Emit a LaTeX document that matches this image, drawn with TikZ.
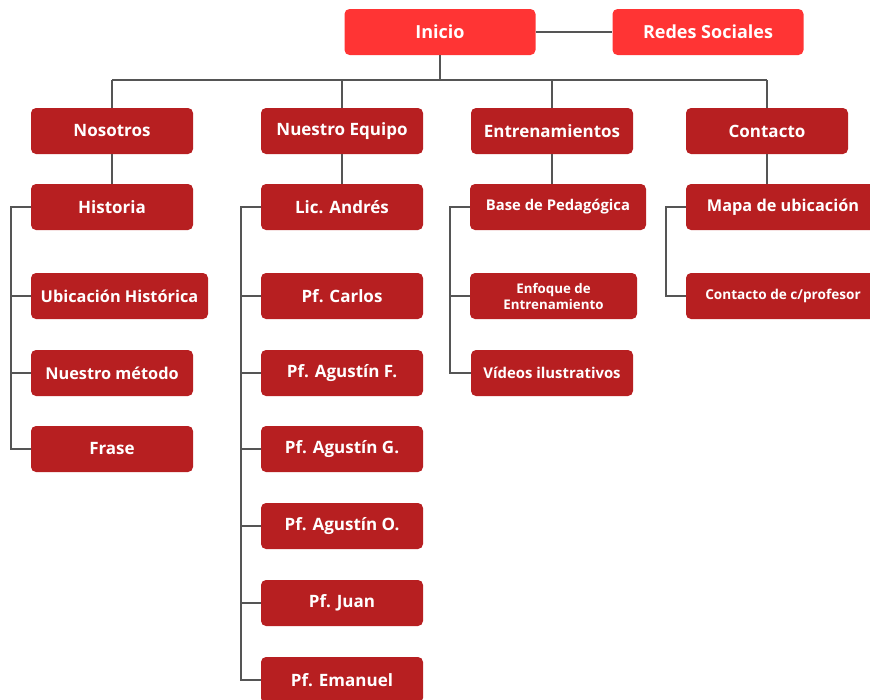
\documentclass[tikz,border=0pt]{standalone}
\usepackage{fontspec}
\setmainfont{Open Sans}
\definecolor{topred}{HTML}{FF3434}
\definecolor{darkred}{HTML}{B71F21}
\definecolor{linegray}{HTML}{555555}
\tikzset{
  box/.style={draw=none, fill=darkred, text=white, rounded corners=5pt, inner sep=0pt,
    minimum height=46pt, minimum width=162pt, font=\bfseries\fontsize{17}{20}\selectfont, align=center},
  topbox/.style={box, fill=topred, minimum width=191pt, font=\bfseries\fontsize{18}{20}\selectfont},
  conn/.style={draw=linegray, line width=1.4pt},
}
\begin{document}
\begin{tikzpicture}[x=1pt,y=-1pt]
\useasboundingbox (0,0) rectangle (870,699);
\clip (0,0) rectangle (870,699);
% top
\node[topbox] (ini) at (440,32) {Inicio};
\node[topbox] (red) at (708,32) {Redes Sociales};
% level 1
\node[box] (nos) at (112,131) {Nosotros};
\node[box] (equ) at (342,131) {Nuestro Equipo};
\node[box] (ent) at (552,131) {Entrenamientos};
\node[box] (con) at (767,131) {Contacto};
% Nosotros children
\node[box] (his) at (112,207) {Historia};
\node[box, minimum width=177pt, font=\bfseries\fontsize{16.3}{19}\selectfont] (ubi) at (119.5,296) {Ubicación Histórica};
\node[box, font=\bfseries\fontsize{16.3}{19}\selectfont] (met) at (112,373) {Nuestro método};
\node[box] (fra) at (112,449) {Frase};
% Equipo children
\node[box] (and) at (342,207) {Lic. Andrés};
\node[box] (car) at (342,296) {Pf. Carlos};
\node[box] (agf) at (342,373) {Pf. Agustín F.};
\node[box] (agg) at (342,449) {Pf. Agustín G.};
\node[box] (ago) at (342,526) {Pf. Agustín O.};
\node[box] (jua) at (342,603) {Pf. Juan};
\node[box] (ema) at (342,680) {Pf. Emanuel};
% Entrenamientos children
\node[box, minimum width=176pt, font=\bfseries\fontsize{14.8}{17}\selectfont] (bas) at (558,207) {Base de Pedagógica};
\node[box, minimum width=167pt, font=\bfseries\fontsize{13.3}{16}\selectfont] (enf) at (553.5,296) {Enfoque de\\Entrenamiento};
\node[box, font=\bfseries\fontsize{14.9}{17}\selectfont] (vid) at (552,373) {Vídeos ilustrativos};
% Contacto children
\node[box, minimum width=194pt, font=\bfseries\fontsize{16.3}{19}\selectfont] (map) at (783,207) {Mapa de ubicación};
\node[box, minimum width=194pt, font=\bfseries\fontsize{13.6}{16}\selectfont] (cpr) at (783,296) {Contacto de c/profesor};
% connectors
\begin{scope}[conn]
\draw (ini) -- (red);
\coordinate (busL) at (112,80);
\coordinate (busR) at (767,80);
\draw (ini.south) -- (ini.south |- busL);
\draw (busL) -- (busR);
\draw (nos.north) -- (busL);
\draw (equ.north) -- (equ.north |- busL);
\draw (ent.north) -- (ent.north |- busL);
\draw (con.north) -- (busR);
\draw (nos) -- (his);
\draw (equ) -- (and);
\draw (ent.south) -- (ent.south |- bas.north);
\draw (con.south) -- (con.south |- map.north);
% side rails
\draw (his.west) -- ++(-20,0) |- (fra.west);
\draw (ubi.west) -- ++(-20,0);
\draw (met.west) -- ++(-20,0);
\draw (and.west) -- ++(-20,0) |- (ema.west);
\foreach \n in {car,agf,agg,ago,jua} \draw (\n.west) -- ++(-20,0);
\draw (bas.west) -- ++(-20,0) |- (vid.west);
\draw (enf.west) -- ++(-20,0);
\draw (map.west) -- ++(-20,0) |- (cpr.west);
\end{scope}
\end{tikzpicture}
\end{document}
